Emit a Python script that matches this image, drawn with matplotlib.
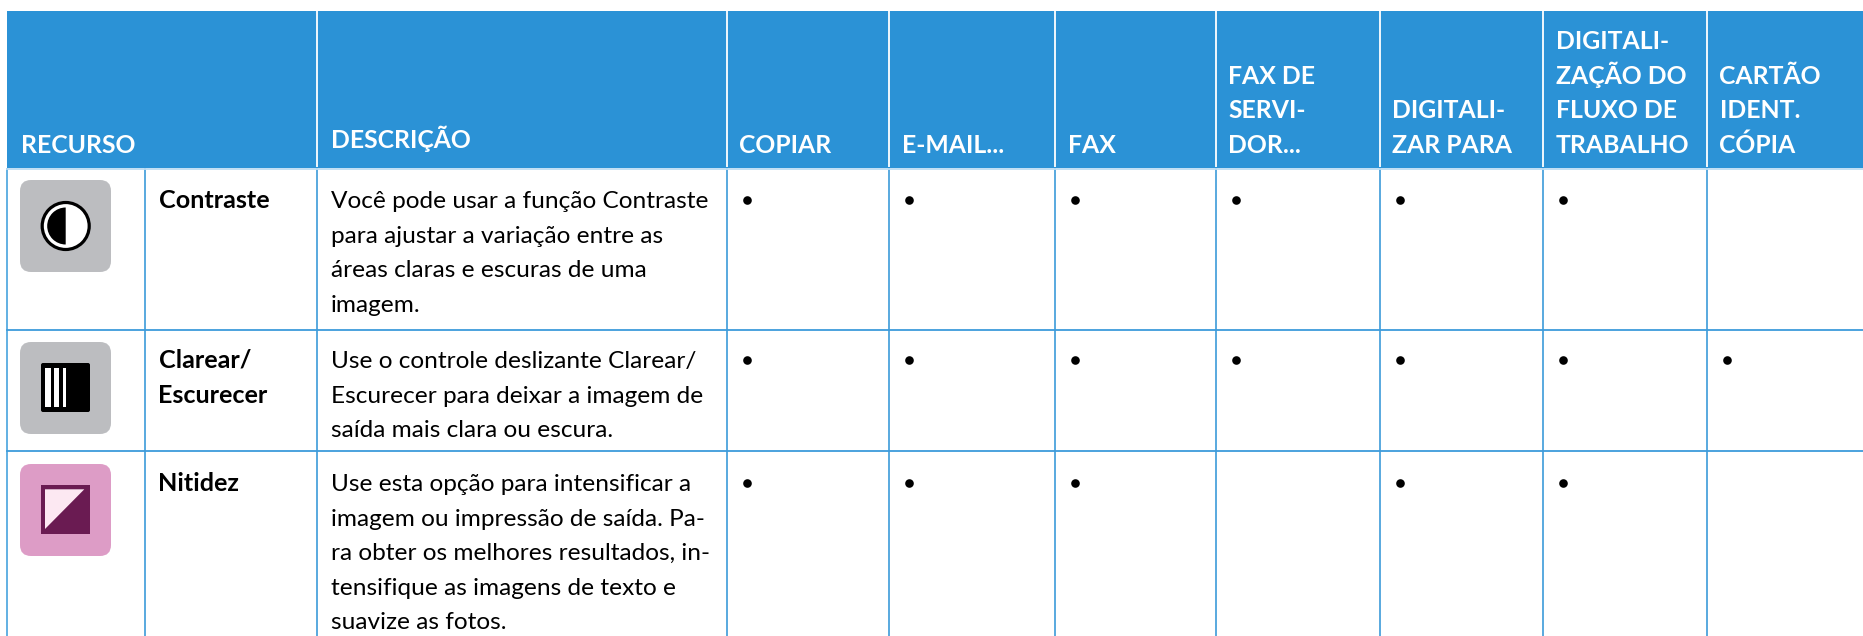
import matplotlib
matplotlib.use('Agg')
import matplotlib.pyplot as plt
from matplotlib.patches import Rectangle, FancyBboxPatch, Circle, Wedge, Polygon

plt.rcParams['font.family'] = ['Lato', 'DejaVu Sans']

# table content
columns = ['COPIAR', 'E-MAIL...', 'FAX', 'FAX DE\nSERVI-\nDOR...', 'DIGITALI-\nZAR PARA',
           'DIGITALI-\nZAÇÃO DO\nFLUXO DE\nTRABALHO', 'CARTÃO\nIDENT.\nCÓPIA']
features = ['Contraste', 'Clarear/\nEscurecer', 'Nitidez']
descriptions = [
    'Você pode usar a função Contraste\npara ajustar a variação entre as\náreas claras e escuras de uma\nimagem.',
    'Use o controle deslizante Clarear/\nEscurecer para deixar a imagem de\nsaída mais clara ou escura.',
    'Use esta opção para intensificar a\nimagem ou impressão de saída. Pa-\nra obter os melhores resultados, in-\ntensifique as imagens de texto e\nsuavize as fotos.',
]
marks = [
    [1, 1, 1, 1, 1, 1, 0],
    [1, 1, 1, 1, 1, 1, 1],
    [1, 1, 1, 0, 1, 1, 0],
]

# layout, in pixels of the picture
W, H = 1863, 636
left = 7
col_edges = [145, 317, 727, 889, 1055, 1216, 1380, 1543, 1707]
header_top, header_bottom = 11, 168
row_edges = [168, 330, 451, 636]
row_first_baseline = [208, 368, 491]
line_step = 34.6
blue = '#2b92d6'
fs_head = 17.8
fs_body = 17.6
fs_name = 18.1

fig = plt.figure(figsize=(W / 100, H / 100), dpi=100)
ax = fig.add_axes([0, 0, 1, 1])
ax.set_xlim(0, W)
ax.set_ylim(H, 0)
ax.axis('off')

ax.add_patch(Rectangle((left, header_top), W - left, header_bottom - header_top, fc=blue, ec='none'))
for x in col_edges[1:]:
    ax.plot([x, x], [header_top, header_bottom - 1], color='white', lw=1.3, solid_capstyle='butt')
    ax.plot([x, x], [header_bottom, H], color=blue, lw=1.1, solid_capstyle='butt')
ax.plot([145, 145], [header_bottom, H], color=blue, lw=1.1, solid_capstyle='butt')
ax.plot([left, left], [header_bottom, H], color='#55aae0', lw=1.3, solid_capstyle='butt')
ax.plot([left, W], [169, 169], color='#bcdcf3', lw=1.3)
for y in row_edges[1:3]:
    ax.plot([left, W], [y, y], color='#3d9bdb', lw=1.3)


def multiline(x, y0, txt, up=False, **kw):
    lines = txt.split('\n')
    if up:
        lines = lines[::-1]
    for i, s in enumerate(lines):
        y = y0 - i * line_step if up else y0 + i * line_step
        ax.text(x, y, s, va='baseline', ha='left', **kw)


ax.text(21, 153, 'RECURSO', color='white', fontsize=fs_head, fontweight='bold', va='baseline')
ax.text(331, 148, 'DESCRIÇÃO', color='white', fontsize=fs_head, fontweight='bold', va='baseline')
for i, c in enumerate(columns):
    multiline(col_edges[i + 2] + 12.5, 153, c, up=True, color='white', fontsize=fs_head, fontweight='bold')

for r in range(3):
    multiline(158.5, row_first_baseline[r], features[r], color='black', fontsize=fs_name, fontweight='bold')
    multiline(331, row_first_baseline[r], descriptions[r], color='black', fontsize=fs_body)
    for i, m in enumerate(marks[r]):
        if m:
            ax.plot(col_edges[i + 2] + 20, row_first_baseline[r] - 8, 'o', color='black', ms=6.2, mew=0)


def icon_bg(y, color):
    ax.add_patch(FancyBboxPatch((20 + 11, y + 11), 91 - 22, 92 - 22,
                                boxstyle='round,pad=11,rounding_size=11', fc=color, ec='none'))


# contrast icon
icon_bg(180, '#bcbdc0')
ax.add_patch(Circle((65.7, 226), 23.5, fc='white', ec='black', lw=2.3))
ax.add_patch(Wedge((65.7, 226), 18.5, 90, 270, fc='black', ec='none'))

# lighten / darken icon
icon_bg(342, '#bcbdc0')
ax.add_patch(FancyBboxPatch((42, 364), 47, 47, boxstyle='round,pad=1,rounding_size=2', fc='black', ec='none'))
for x0, x1 in [(45, 50.7), (54.3, 59), (62.7, 66)]:
    ax.add_patch(Rectangle((x0, 368), x1 - x0, 39, fc='white', ec='none'))

# sharpness icon
icon_bg(464, '#dd9cc6')
ax.add_patch(Rectangle((41, 485), 49.3, 49, fc='#6a1b52', ec='none'))
ax.add_patch(Polygon([(45, 489.3), (84.3, 489.3), (45, 529)], fc='#fce8f2', ec='none'))

fig.savefig('out.png', dpi=100)
